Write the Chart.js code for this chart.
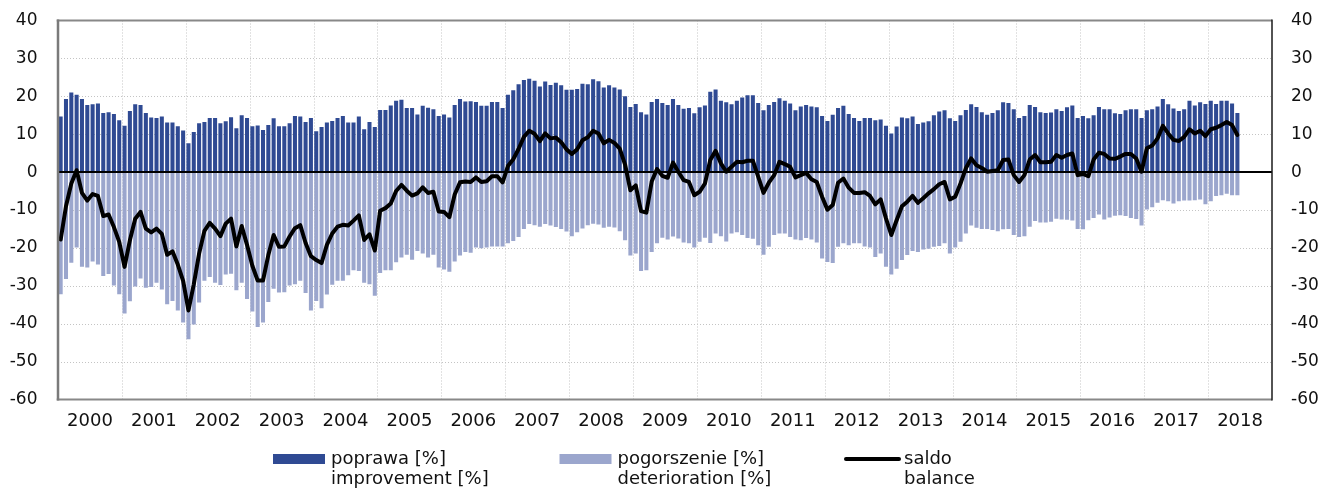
<!DOCTYPE html>
<html>
<head>
<meta charset="utf-8">
<script src="https://cdn.jsdelivr.net/npm/chart.js@4.4.1/dist/chart.umd.min.js"></script>
<style>
  body { margin: 0; background: #fff; }
  canvas { display: block; }
</style>
</head>
<body>
<canvas id="saldo-chart" width="1325" height="489"></canvas>
<script>
// monthly data, Jan 2000 - Jun 2018
const years = ["2000", "2001", "2002", "2003", "2004", "2005", "2006", "2007", "2008", "2009",
    "2010", "2011", "2012", "2013", "2014", "2015", "2016", "2017", "2018"];

const poprawa = [
    14.7, 19.3, 21.0, 20.4, 19.3, 17.7, 17.9, 18.1, 15.6, 15.8, 15.3, 13.7,
    12.2, 16.1, 17.9, 17.7, 15.6, 14.4, 14.3, 14.7, 13.1, 13.1, 12.1, 11.0,
    7.6, 10.6, 12.9, 13.2, 14.3, 14.3, 12.9, 13.4, 14.5, 11.6, 15.0, 14.3,
    12.1, 12.3, 11.1, 12.4, 14.2, 12.1, 12.1, 12.9, 14.8, 14.7, 13.2, 14.3,
    10.8, 11.9, 13.1, 13.5, 14.3, 14.8, 13.1, 13.1, 14.7, 11.3, 13.2, 11.9,
    16.4, 16.4, 17.6, 18.8, 19.1, 16.9, 16.9, 15.2, 17.5, 17.0, 16.6, 14.8,
    15.2, 14.4, 17.7, 19.3, 18.6, 18.7, 18.5, 17.5, 17.5, 18.5, 18.5, 16.9,
    20.4, 21.6, 23.2, 24.3, 24.6, 24.1, 22.6, 23.9, 23.0, 23.6, 22.9, 21.7,
    21.7, 21.9, 23.3, 23.2, 24.5, 24.0, 22.3, 22.9, 22.3, 21.8, 20.0, 17.2,
    18.0, 15.8, 15.2, 18.5, 19.3, 18.2, 17.7, 19.3, 17.7, 16.7, 16.9, 15.5,
    17.1, 17.6, 21.2, 21.8, 18.8, 18.4, 17.9, 18.8, 19.7, 20.3, 20.3, 18.2,
    16.3, 17.7, 18.5, 19.5, 18.8, 18.1, 16.3, 17.3, 17.7, 17.3, 17.1, 14.8,
    13.5, 15.1, 16.9, 17.5, 15.3, 14.3, 13.5, 14.3, 14.3, 13.7, 13.9, 12.2,
    10.2, 12.0, 14.4, 14.2, 14.7, 12.7, 13.1, 13.4, 15.0, 16.0, 16.3, 14.2,
    13.5, 15.0, 16.4, 17.9, 17.2, 15.8, 15.1, 15.6, 16.3, 18.4, 18.2, 16.6,
    14.3, 14.8, 17.7, 17.2, 15.8, 15.6, 15.7, 16.6, 16.1, 17.1, 17.6, 14.3,
    14.8, 14.2, 15.0, 17.2, 16.6, 16.6, 15.5, 15.3, 16.3, 16.6, 16.6, 14.3,
    16.3, 16.6, 17.3, 19.3, 17.9, 16.8, 16.1, 16.6, 18.8, 17.6, 18.4, 18.0,
    18.8, 18.0, 18.8, 18.8, 18.1, 15.6
];

const pogorszenie = [
    -32.2, -28.2, -23.9, -19.9, -25.0, -25.2, -23.6, -24.4, -27.4, -26.9, -29.9, -32.2,
    -37.3, -34.1, -30.2, -28.1, -30.5, -30.3, -29.2, -31.0, -34.9, -34.0, -36.5, -39.7,
    -44.1, -40.2, -34.4, -28.7, -27.7, -29.2, -29.8, -27.0, -26.8, -31.2, -29.2, -33.5,
    -36.8, -40.9, -39.7, -34.3, -30.8, -31.8, -31.7, -29.9, -29.6, -28.7, -31.9, -36.5,
    -34.0, -35.9, -32.3, -29.7, -28.7, -28.7, -27.2, -25.9, -26.1, -29.2, -29.6, -32.6,
    -26.6, -25.9, -25.9, -23.8, -22.5, -21.8, -23.1, -20.8, -21.5, -22.5, -21.8, -25.2,
    -25.7, -26.3, -23.6, -22.0, -21.1, -21.3, -19.9, -20.1, -19.9, -19.6, -19.6, -19.6,
    -18.8, -18.2, -17.1, -15.0, -13.7, -14.0, -14.4, -13.7, -14.1, -14.5, -15.0, -15.7,
    -16.9, -15.9, -14.9, -14.0, -13.6, -13.8, -14.7, -14.4, -14.6, -15.6, -18.0, -22.0,
    -21.5, -26.1, -25.9, -21.1, -18.8, -17.3, -17.8, -17.0, -17.5, -18.6, -18.8, -19.9,
    -18.4, -17.3, -18.7, -16.2, -16.9, -18.3, -16.2, -15.9, -16.6, -17.4, -17.6, -19.3,
    -21.8, -19.7, -16.6, -16.2, -16.2, -17.1, -17.8, -18.0, -17.4, -17.8, -18.6, -22.8,
    -23.7, -24.0, -19.7, -18.8, -19.3, -18.8, -18.8, -19.6, -19.9, -22.4, -21.5, -25.0,
    -27.0, -25.5, -23.2, -21.9, -20.8, -21.1, -20.4, -20.2, -19.7, -19.5, -18.8, -21.5,
    -19.9, -18.4, -16.2, -14.1, -14.7, -15.0, -15.0, -15.3, -15.6, -15.1, -15.0, -16.6,
    -17.1, -16.9, -14.4, -12.9, -13.3, -13.3, -13.1, -12.3, -12.5, -12.6, -12.8, -15.0,
    -15.1, -12.7, -12.1, -11.2, -12.5, -12.0, -11.5, -11.4, -11.6, -12.1, -12.4, -14.1,
    -9.9, -9.3, -8.1, -7.4, -7.7, -8.3, -7.7, -7.5, -7.5, -7.4, -7.2, -8.5,
    -7.7, -6.3, -6.1, -5.7, -6.1, -6.1
];

const saldo = [
    -17.8, -9.0, -3.0, 0.5, -5.5, -7.5, -5.8, -6.3, -11.6, -11.2, -14.5, -18.4,
    -25.0, -18.0, -12.3, -10.5, -14.9, -15.9, -14.9, -16.3, -21.8, -20.9, -24.4, -28.7,
    -36.5, -29.6, -21.5, -15.5, -13.4, -14.9, -16.9, -13.6, -12.3, -19.6, -14.2, -19.2,
    -24.7, -28.6, -28.6, -21.9, -16.6, -19.7, -19.6, -17.0, -14.8, -14.0, -18.7, -22.2,
    -23.2, -24.0, -19.2, -16.2, -14.4, -13.9, -14.1, -12.8, -11.4, -17.9, -16.4, -20.7,
    -10.2, -9.5, -8.3, -5.0, -3.4, -4.9, -6.2, -5.6, -4.0, -5.5, -5.2, -10.4,
    -10.5, -11.9, -5.9, -2.7, -2.5, -2.6, -1.4, -2.6, -2.4, -1.1, -1.1, -2.7,
    1.6, 3.4, 6.1, 9.3, 10.9, 10.1, 8.2, 10.2, 8.9, 9.1, 7.9, 6.0,
    4.8, 6.0, 8.4, 9.2, 10.9, 10.2, 7.6, 8.5, 7.7, 6.2, 2.0, -4.8,
    -3.5, -10.3, -10.7, -2.5, 0.8, -1.0, -1.5, 2.5, 0.1, -2.1, -2.6, -6.1,
    -5.2, -3.0, 3.2, 5.6, 2.3, 0.1, 1.4, 2.7, 2.6, 3.0, 3.0, -1.2,
    -5.5, -2.8, -0.8, 2.7, 2.1, 1.4, -1.4, -0.8, -0.2, -1.9, -2.6, -6.5,
    -9.9, -8.7, -2.8, -1.7, -4.1, -5.5, -5.5, -5.3, -6.3, -8.5, -7.2, -12.2,
    -16.6, -12.7, -9.0, -7.8, -6.3, -8.1, -6.9, -5.6, -4.5, -3.2, -2.6, -7.2,
    -6.5, -3.0, 1.0, 3.6, 1.8, 1.1, 0.1, 0.3, 0.5, 3.2, 3.3, -0.8,
    -2.6, -0.8, 3.3, 4.5, 2.6, 2.6, 2.7, 4.5, 3.8, 4.5, 4.9, -0.8,
    -0.5, -1.1, 3.3, 5.1, 4.8, 3.6, 3.5, 4.1, 4.8, 4.8, 3.6, 0.1,
    6.3, 7.0, 8.9, 12.2, 10.2, 8.5, 8.2, 9.3, 11.3, 10.2, 10.9, 9.5,
    11.3, 11.7, 12.4, 13.2, 12.4, 9.8
];

const yTicks = [40, 30, 20, 10, 0, -10, -20, -30, -40, -50, -60];

const legendLabels = [
    ["poprawa [%]", "improvement [%]"],
    ["pogorszenie [%]", "deterioration [%]"],
    ["saldo", "balance"]
];

const DARK = "#2f4a93";
const LIGHT = "#9ba6cd";
const FONT = "'DejaVu Sans', sans-serif";

// one category per month, full years on the axis
const months = [];
years.forEach(y => {
    for (let m = 1; m <= 12; m++) months.push(y + "-" + String(m).padStart(2, "0"));
});

// dotted grid under the bars, frame and legend on top
const frameAndLegend = {
    id: "frameAndLegend",
    beforeDatasetsDraw(chart) {
        const c = chart.ctx;
        const a = chart.chartArea;
        const xs = chart.scales.x;
        const ys = chart.scales.y;
        c.save();
        c.strokeStyle = "#c4c4c4";
        c.lineWidth = 1;
        c.setLineDash([1, 2]);
        c.beginPath();
        yTicks.slice(1, -1).forEach(v => {
            const y = Math.round(ys.getPixelForValue(v)) + 0.5;
            c.moveTo(a.left, y);
            c.lineTo(a.right, y);
        });
        for (let k = 12; k < months.length; k += 12) {
            const x = Math.round((xs.getPixelForValue(k - 1) + xs.getPixelForValue(k)) / 2) + 0.5;
            c.moveTo(x, a.top);
            c.lineTo(x, a.bottom);
        }
        c.stroke();
        c.restore();
    },
    afterDraw(chart) {
        const c = chart.ctx;
        const a = chart.chartArea;
        c.save();
        c.strokeStyle = "#888888";
        c.lineWidth = 2;
        c.beginPath();
        c.moveTo(a.left - 1.25, a.top);
        c.lineTo(a.right, a.top);
        c.moveTo(a.left - 1.25, a.bottom);
        c.lineTo(a.right, a.bottom);
        c.stroke();
        c.strokeStyle = "#7a7a7a";
        c.lineWidth = 2.5;
        c.beginPath();
        c.moveTo(a.left, a.top - 1);
        c.lineTo(a.left, a.bottom + 1);
        c.stroke();
        c.strokeStyle = "#1a1a1a";
        c.lineWidth = 1.5;
        c.beginPath();
        c.moveTo(a.right, a.top - 1);
        c.lineTo(a.right, a.bottom + 1);
        c.stroke();

        // legend with two-line labels
        const startX = 273, step = 286.5, y = 459;
        c.font = "18px " + FONT;
        c.textBaseline = "middle";
        chart.data.datasets.slice().sort((p, q) => p.legendIndex - q.legendIndex).forEach((ds, i) => {
            const x = startX + i * step;
            if (ds.type === "line") {
                c.strokeStyle = ds.borderColor;
                c.lineWidth = 4;
                c.lineCap = "round";
                c.beginPath();
                c.moveTo(x, y);
                c.lineTo(x + 53, y);
                c.stroke();
            } else {
                c.fillStyle = ds.backgroundColor;
                c.fillRect(x, y - 5, 52, 10);
            }
            c.fillStyle = "#111";
            const lines = legendLabels[ds.legendIndex];
            c.fillText(lines[0], x + 58, y);
            c.fillText(lines[1], x + 58, y + 20);
        });
        c.restore();
    }
};

const fitY = w => s => { s.width = w; s.paddingTop = 0; s.paddingBottom = 0; };

new Chart(document.getElementById("saldo-chart").getContext("2d"), {
    data: {
        labels: months,
        datasets: [
            {
                type: "line",
                label: "saldo",
                legendIndex: 2,
                data: saldo,
                borderColor: "#000",
                borderWidth: 4,
                borderJoinStyle: "round",
                borderCapStyle: "round",
                pointRadius: 0,
                tension: 0,
                order: 0
            },
            {
                type: "bar",
                label: "poprawa [%]",
                legendIndex: 0,
                data: poprawa,
                backgroundColor: DARK,
                grouped: false,
                barPercentage: 0.76,
                categoryPercentage: 1,
                order: 1
            },
            {
                type: "bar",
                label: "pogorszenie [%]",
                legendIndex: 1,
                data: pogorszenie,
                backgroundColor: LIGHT,
                grouped: false,
                barPercentage: 0.76,
                categoryPercentage: 1,
                order: 2
            }
        ]
    },
    options: {
        responsive: false,
        animation: false,
        layout: { padding: { top: 20.5, left: 0, right: 0, bottom: 0 } },
        plugins: {
            legend: { display: false },
            tooltip: { enabled: false }
        },
        scales: {
            x: {
                type: "category",
                offset: true,
                afterFit: s => { s.height = 89.5; s.paddingLeft = 0; s.paddingRight = 0; },
                grid: { display: false, drawTicks: false },
                border: { display: false },
                ticks: {
                    autoSkip: false,
                    maxRotation: 0,
                    minRotation: 0,
                    padding: 11,
                    labelOffset: -2.66,
                    color: "#111",
                    font: { family: FONT, size: 18 },
                    callback: (v, i) => (i % 12 === 6 ? years[Math.floor(i / 12)] : "")
                }
            },
            y: {
                position: "left",
                min: -60,
                max: 40,
                afterFit: fitY(58),
                afterBuildTicks: s => { s.ticks = yTicks.map(v => ({ value: v })); },
                grid: { display: false, drawTicks: false },
                border: { display: false },
                ticks: {
                    padding: 20.5,
                    color: "#111",
                    font: { family: FONT, size: 17 }
                }
            },
            y2: {
                position: "right",
                min: -60,
                max: 40,
                afterFit: fitY(53),
                afterBuildTicks: s => { s.ticks = yTicks.map(v => ({ value: v })); },
                grid: {
                    drawTicks: false,
                    z: 1,
                    color: c => (c.tick && c.tick.value === 0 ? "#000" : "rgba(0,0,0,0)"),
                    lineWidth: 2
                },
                border: { display: false },
                ticks: {
                    padding: 19,
                    color: "#111",
                    font: { family: FONT, size: 17 }
                }
            }
        }
    },
    plugins: [frameAndLegend]
});
</script>
</body>
</html>
